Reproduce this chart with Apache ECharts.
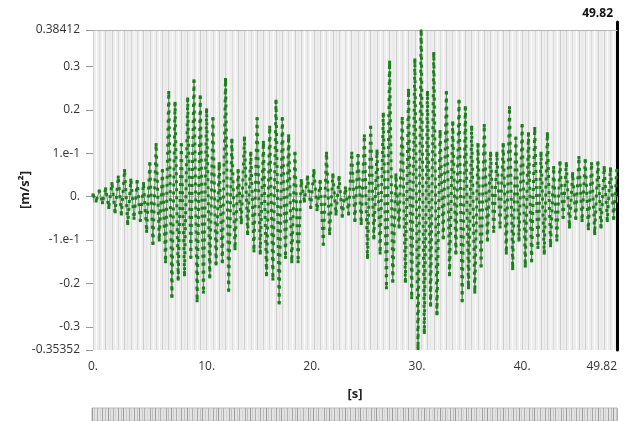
<!DOCTYPE html>
<html>
<head>
<meta charset="utf-8">
<script src="https://cdn.jsdelivr.net/npm/echarts@6/dist/echarts.min.js"></script>
<style>
  html, body { margin: 0; padding: 0; background: #fff; }
  #chart { width: 626px; height: 421px; }
</style>
</head>
<body>
<div id="chart"></div>
<script>
// Axis extents as printed on the chart.
const T_MAX = 49.82;
const Y_MIN = -0.35352;
const Y_MAX = 0.38412;

const X_TICKS = [0, 10, 20, 30, 40, 49.82];
const X_TICK_LABELS = ["0.", "10.", "20.", "30.", "40.", "49.82"];
const Y_TICKS = [-0.35352, -0.3, -0.2, -0.1, 0, 0.1, 0.2, 0.3, 0.38412];
const Y_TICK_LABELS = ["-0.35352", "-0.3", "-0.2", "-1.e-1", "0.", "1.e-1", "0.2", "0.3", "0.38412"];

// Acceleration [m/s2], one value per swing extreme.
// Extremes sit SAMPLE_STEP_S apart, starting at t = 0.
const SAMPLE_STEP_S = 0.3;
const ACCEL = [
  0.004, -0.010, 0.013, -0.014, 0.018, -0.025, 0.030, -0.035, 0.045, -0.040,
  0.060, -0.062, 0.038, -0.050, 0.035, -0.055, 0.030, -0.080, 0.076, -0.108,
  0.120, -0.100, 0.060, -0.150, 0.240, -0.230, 0.215, -0.190, 0.120, -0.180,
  0.225, -0.140, 0.267, -0.240, 0.230, -0.220, 0.200, -0.185, 0.180, -0.155,
  0.076, -0.150, 0.270, -0.216, 0.130, -0.120, 0.060, -0.060, 0.135, -0.085,
  0.100, -0.125, 0.180, -0.130, 0.125, -0.180, 0.160, -0.190, 0.220, -0.245,
  0.180, -0.140, 0.140, -0.150, 0.100, -0.150, 0.037, -0.010, 0.045, -0.025,
  0.060, -0.030, 0.035, -0.110, 0.100, -0.085, 0.050, -0.040, 0.044, -0.045,
  0.020, -0.040, 0.100, -0.055, 0.095, -0.062, 0.140, -0.140, 0.160, -0.095,
  0.105, -0.130, 0.190, -0.210, 0.310, -0.195, 0.050, -0.070, 0.180, -0.195,
  0.245, -0.233, 0.315, -0.350, 0.387, -0.313, 0.240, -0.250, 0.330, -0.270,
  0.150, -0.095, 0.240, -0.180, 0.170, -0.130, 0.220, -0.240, 0.205, -0.210,
  0.160, -0.220, 0.120, -0.160, 0.164, -0.100, 0.100, -0.080, 0.100, -0.070,
  0.120, -0.130, 0.205, -0.166, 0.135, -0.100, 0.164, -0.160, 0.145, -0.148,
  0.157, -0.117, 0.100, -0.130, 0.145, -0.113, 0.067, -0.100, 0.078, -0.048,
  0.076, -0.070, 0.053, -0.050, 0.090, -0.055, 0.083, -0.074, 0.076, -0.085,
  0.078, -0.070, 0.067, -0.055, 0.064, -0.050, 0.060,
];

const FONT = "'Open Sans', 'DejaVu Sans', sans-serif";
const GREEN = "#1b801b";

const points = ACCEL.map((a, i) => [+(i * SAMPLE_STEP_S).toFixed(2), a]);

function tickLabel(ticks, labels) {
  return (v) => {
    const i = ticks.findIndex((t) => Math.abs(t - v) < 1e-6);
    return i < 0 ? "" : labels[i];
  };
}

const option = {
  animation: false,
  title: {
    text: "49.82",
    right: 8,
    top: 3,
    textStyle: { fontFamily: FONT, fontSize: 12, fontWeight: "bold", color: "#111" },
  },
  grid: [
    // main plot
    { left: 93, right: 9, top: 30, bottom: 71, show: true, backgroundColor: "#eeeeee", borderWidth: 0 },
    // cursor at the last sample, sticks out above the plot
    { left: 93, right: 9, top: 22, bottom: 71, show: false },
    // overview strip along the bottom edge
    { left: 92, right: 9, top: 408, height: 15, show: true, backgroundColor: "#e3e3e3", borderColor: "#b5b5b5", borderWidth: 1 },
  ],
  xAxis: [
    {
      gridIndex: 0,
      type: "value",
      min: 0,
      max: T_MAX,
      name: "[s]",
      nameLocation: "middle",
      nameGap: 38,
      nameMoveOverlap: false,
      nameTextStyle: { fontFamily: FONT, fontSize: 13, fontWeight: "bold", color: "#222" },
      axisLine: { show: true, lineStyle: { color: "#b8b8b8", type: "dotted" } },
      axisTick: { show: true, length: 6, customValues: X_TICKS, lineStyle: { color: "#999" } },
      axisLabel: {
        customValues: X_TICKS,
        formatter: tickLabel(X_TICKS, X_TICK_LABELS),
        fontFamily: FONT,
        fontSize: 12,
        color: "#333",
        margin: 11,
        align: "left",
        alignMinLabel: "center",
        alignMaxLabel: "right",
      },
      splitLine: { show: false },
    },
    {
      // dense vertical grid, drawn from the top axis
      gridIndex: 0,
      type: "value",
      position: "top",
      min: 0,
      max: T_MAX,
      interval: 0.3,
      axisLine: { show: true, onZero: false, lineStyle: { color: "#b4b4b4" } },
      axisTick: { show: false },
      axisLabel: { show: false },
      splitLine: {
        show: true,
        lineStyle: { width: 1, color: ["#d2d2d2", "#fafafa", "#dadada", "#ffffff", "#cdcdcd", "#e6e6e6"] },
      },
    },
    { gridIndex: 1, type: "value", min: 0, max: 1, show: false },
    {
      gridIndex: 2,
      type: "value",
      min: 0,
      max: T_MAX,
      interval: 0.25,
      axisLine: { show: false },
      axisTick: { show: false },
      axisLabel: { show: false },
      splitLine: {
        show: true,
        lineStyle: { width: 1, color: ["#9c9c9c", "#c9c9c9", "#b0b0b0", "#d5d5d5", "#a6a6a6", "#bfbfbf"] },
      },
    },
  ],
  yAxis: [
    {
      gridIndex: 0,
      type: "value",
      min: Y_MIN,
      max: Y_MAX,
      name: "[m/s²]",
      nameLocation: "middle",
      nameGap: 61,
      nameRotate: 90,
      nameMoveOverlap: false,
      nameTextStyle: { fontFamily: FONT, fontSize: 13, fontWeight: "bold", color: "#222" },
      axisLine: { show: false, onZero: false },
      axisTick: { show: true, length: 7, customValues: Y_TICKS, lineStyle: { color: "#999" } },
      axisLabel: {
        customValues: Y_TICKS,
        formatter: tickLabel(Y_TICKS, Y_TICK_LABELS),
        fontFamily: FONT,
        fontSize: 12,
        color: "#333",
        margin: 13,
      },
      splitLine: { show: false },
    },
    {
      gridIndex: 1,
      type: "value",
      position: "right",
      min: 0,
      max: 1,
      axisLine: { show: true, onZero: false, lineStyle: { color: "#000", width: 3 } },
      axisTick: { show: false },
      axisLabel: { show: false },
      splitLine: { show: false },
    },
    { gridIndex: 2, type: "value", min: 0, max: 1, show: false },
  ],
  series: [
    {
      // thin connecting trace
      type: "line",
      xAxisIndex: 0,
      yAxisIndex: 0,
      data: points,
      showSymbol: false,
      silent: true,
      lineStyle: { color: "#5f935f", width: 1 },
      z: 2,
    },
    {
      // dotted sample markers along the trace
      type: "line",
      xAxisIndex: 0,
      yAxisIndex: 0,
      data: points,
      showSymbol: true,
      symbol: "rect",
      symbolSize: 3,
      itemStyle: { color: GREEN },
      silent: true,
      lineStyle: { color: GREEN, width: 3, type: [3, 5], cap: "butt" },
      z: 3,
    },
  ],
};

const chart = echarts.init(document.getElementById("chart"));
chart.setOption(option);
</script>
</body>
</html>
